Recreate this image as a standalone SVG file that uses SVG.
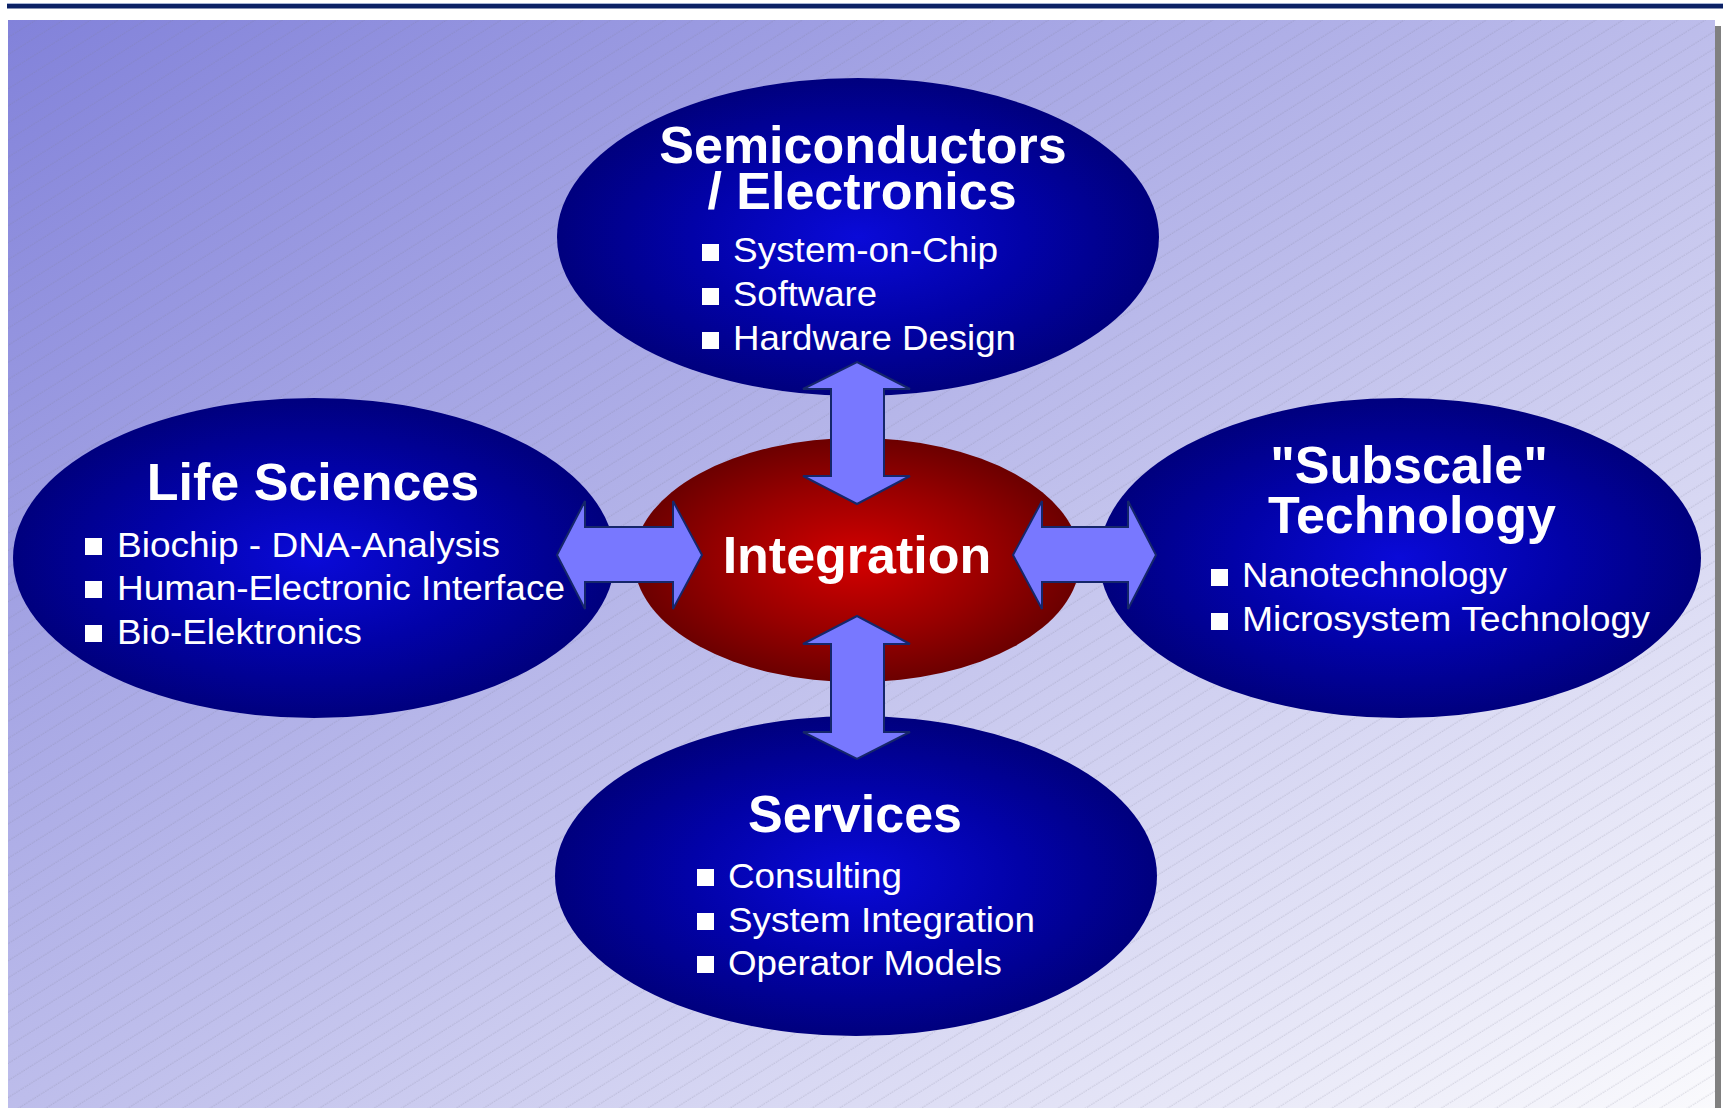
<svg xmlns="http://www.w3.org/2000/svg" width="1723" height="1108" viewBox="0 0 1723 1108">
  <defs>
    <linearGradient id="bg" x1="0" y1="0" x2="1" y2="1">
      <stop offset="0" stop-color="#8282da"/>
      <stop offset="0.5" stop-color="#bdbdeb"/>
      <stop offset="1" stop-color="#fafafd"/>
    </linearGradient>
    <pattern id="hatch" width="40" height="14.5" patternUnits="userSpaceOnUse" patternTransform="rotate(-32)">
      <line x1="0" y1="7" x2="40" y2="7" stroke="#7a7a90" stroke-width="1" stroke-dasharray="1.5 1" stroke-opacity="0.3"/>
    </pattern>
    <radialGradient id="blueFill" cx="0.5" cy="0.5" r="0.5">
      <stop offset="0" stop-color="#0a0ad8"/>
      <stop offset="0.55" stop-color="#0202a8"/>
      <stop offset="1" stop-color="#00007e"/>
    </radialGradient>
    <radialGradient id="redFill" cx="0.5" cy="0.5" r="0.5">
      <stop offset="0" stop-color="#d40000"/>
      <stop offset="0.6" stop-color="#980000"/>
      <stop offset="1" stop-color="#6c0000"/>
    </radialGradient>
  </defs>
  <style>
    .title { font-family: "Liberation Sans", Arial, sans-serif; font-weight: bold; font-size: 52px; fill: #ffffff; text-anchor: middle; }
    .item { font-family: "Liberation Sans", Arial, sans-serif; font-size: 35px; fill: #ffffff; }
    .bullet { fill: #ffffff; }
    .blue { fill: url(#blueFill); }
    .red { fill: url(#redFill); }
    .arrow { fill: #7878ff; stroke: #15266a; stroke-width: 2; stroke-linejoin: miter; }
  </style>

  <!-- page background -->
  <rect x="0" y="0" width="1723" height="1108" fill="#ffffff"/>
  <rect x="7" y="3" width="1716" height="5.5" fill="#0b2165"/>
  <line x1="7" y1="3.5" x2="1723" y2="3.5" stroke="#a6b4d6" stroke-width="1"/>
  <rect x="1715" y="26" width="6" height="1082" fill="#808080"/>
  <rect x="8" y="20" width="1707" height="1088" fill="url(#bg)"/>
  <rect x="8" y="20" width="1707" height="1088" fill="url(#hatch)"/>

  <!-- Semiconductors / Electronics -->
  <g id="node-semiconductors">
    <ellipse class="blue" cx="858" cy="237" rx="301" ry="159"/>
    <text class="title" x="863" y="163">Semiconductors</text>
    <text class="title" x="862" y="209">/ Electronics</text>
    <rect class="bullet" x="702" y="244" width="17" height="17"/>
    <text class="item" x="733" y="262" textLength="265" lengthAdjust="spacingAndGlyphs">System-on-Chip</text>
    <rect class="bullet" x="702" y="288" width="17" height="17"/>
    <text class="item" x="733" y="306" textLength="144" lengthAdjust="spacingAndGlyphs">Software</text>
    <rect class="bullet" x="702" y="332" width="17" height="17"/>
    <text class="item" x="733" y="350" textLength="283" lengthAdjust="spacingAndGlyphs">Hardware Design</text>
  </g>

  <!-- Life Sciences -->
  <g id="node-life-sciences">
    <ellipse class="blue" cx="314" cy="558" rx="301" ry="160"/>
    <text class="title" x="313" y="500">Life Sciences</text>
    <rect class="bullet" x="85" y="538" width="17" height="17"/>
    <text class="item" x="117" y="557" textLength="383" lengthAdjust="spacingAndGlyphs">Biochip - DNA-Analysis</text>
    <rect class="bullet" x="85" y="581" width="17" height="17"/>
    <text class="item" x="117" y="600" textLength="448" lengthAdjust="spacingAndGlyphs">Human-Electronic Interface</text>
    <rect class="bullet" x="85" y="625" width="17" height="17"/>
    <text class="item" x="117" y="644" textLength="245" lengthAdjust="spacingAndGlyphs">Bio-Elektronics</text>
  </g>

  <!-- "Subscale" Technology -->
  <g id="node-subscale">
    <ellipse class="blue" cx="1400" cy="558" rx="301" ry="160"/>
    <text class="title" x="1409" y="483">"Subscale"</text>
    <text class="title" x="1412" y="533">Technology</text>
    <rect class="bullet" x="1211" y="569" width="17" height="17"/>
    <text class="item" x="1242" y="587" textLength="265" lengthAdjust="spacingAndGlyphs">Nanotechnology</text>
    <rect class="bullet" x="1211" y="613" width="17" height="17"/>
    <text class="item" x="1242" y="631" textLength="408" lengthAdjust="spacingAndGlyphs">Microsystem Technology</text>
  </g>

  <!-- Services -->
  <g id="node-services">
    <ellipse class="blue" cx="856" cy="876" rx="301" ry="160"/>
    <text class="title" x="855" y="832">Services</text>
    <rect class="bullet" x="697" y="869" width="17" height="17"/>
    <text class="item" x="728" y="888" textLength="174" lengthAdjust="spacingAndGlyphs">Consulting</text>
    <rect class="bullet" x="697" y="913" width="17" height="17"/>
    <text class="item" x="728" y="932" textLength="307" lengthAdjust="spacingAndGlyphs">System Integration</text>
    <rect class="bullet" x="697" y="956" width="17" height="17"/>
    <text class="item" x="728" y="975" textLength="274" lengthAdjust="spacingAndGlyphs">Operator Models</text>
  </g>

  <!-- Integration (hub) -->
  <g id="node-integration">
    <ellipse class="red" cx="857" cy="560" rx="223" ry="122"/>
    <text class="title" x="857" y="573">Integration</text>
  </g>

  <!-- double-headed connectors -->
  <g id="connectors">
    <polygon class="arrow" points="857,362 910,389 884,389 884,476 910,476 857,504 803,476 831,476 831,389 803,389"/>
    <polygon class="arrow" points="857,616 910,644 884,644 884,732 910,732 857,759 803,732 831,732 831,644 803,644"/>
    <polygon class="arrow" points="557,555 585,501 585,527 673,527 673,501 702,555 673,609 673,582 585,582 585,609"/>
    <polygon class="arrow" points="1013,555 1042,501 1042,527 1128,527 1128,501 1156,555 1128,609 1128,582 1042,582 1042,609"/>
  </g>
</svg>
